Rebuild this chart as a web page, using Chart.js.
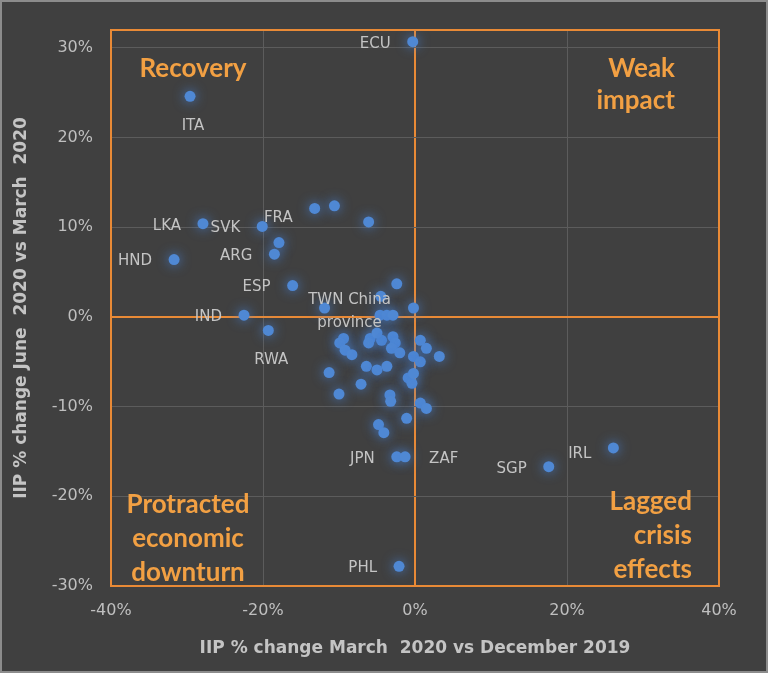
<!DOCTYPE html>
<html><head><meta charset="utf-8">
<script src="https://cdn.jsdelivr.net/npm/chart.js@4.4.1/dist/chart.umd.min.js"></script>
<style>html,body{margin:0;padding:0;background:#404040;overflow:hidden}#wrap{width:768px;height:673px}</style>
</head><body><div id="wrap"><canvas id="c"></canvas></div>
<script>
// IIP % change March 2020 vs December 2019
const xValues = [-0.3,-29.6,-27.9,-20.1,-13.2,-10.6,-6.1,-17.9,-18.5,-31.7,-16.1,-2.4,-4.5,-0.2,-11.9,-22.5,-19.3,-4.6,-3.7,-2.9,
  -9.4,-9.9,-9.2,-8.3,-5.9,-6.1,-4.4,-5.0,-2.9,-2.6,-3.1,-2.0,-0.2,0.7,0.7,1.5,3.2,-11.3,-6.4,-5.0,
  -3.7,-0.9,-0.4,-0.2,-7.1,-10.0,-3.3,-3.2,0.7,1.5,-1.1,-4.8,-4.1,-2.4,-1.3,17.6,26.1,-2.1];
// IIP % change June 2020 vs March 2020
const yValues = [30.7,24.6,10.4,10.1,12.1,12.4,10.6,8.3,7.0,6.4,3.5,3.7,2.3,1.0,1.0,0.2,-1.5,0.2,0.2,0.2,
  -2.4,-2.9,-3.7,-4.2,-2.4,-2.9,-2.6,-1.8,-2.2,-2.9,-3.5,-4.0,-4.4,-5.0,-2.6,-3.5,-4.4,-6.2,-5.5,-5.9,
  -5.5,-6.8,-7.4,-6.3,-7.5,-8.6,-8.7,-9.4,-9.6,-10.2,-11.3,-12.0,-12.9,-15.6,-15.6,-16.7,-14.6,-27.8];
const pointLabels = ['ECU','ITA','LKA','SVK','FRA','','','','ARG','HND','ESP','','','','TWN China|province','IND','RWA','','','',
  '','','','','','','','','','','','','','','','','','','','',
  '','','','','','','','','','','','','','JPN','ZAF','SGP','IRL','PHL'];
const xTickValues = [-40,-20,0,20,40];
const yTickValues = [-30,-20,-10,0,10,20,30];
const quadrantTopLeft = ['Recovery'];
const quadrantTopRight = ['Weak','impact'];
const quadrantBottomLeft = ['Protracted','economic','downturn'];
const quadrantBottomRight = ['Lagged','crisis','effects'];

// label placement (layout only)
const labelPlace = {
  'ECU':{pos:'left'}, 'ITA':{pos:'below'}, 'LKA':{pos:'left'}, 'SVK':{pos:'left'},
  'FRA':{pos:'left',dy:8}, 'ARG':{pos:'left'}, 'HND':{pos:'left'}, 'ESP':{pos:'left'},
  'TWN China|province':{pos:'custom',dx:25,dy:2}, 'IND':{pos:'left'}, 'RWA':{pos:'below'},
  'JPN':{pos:'left'}, 'ZAF':{pos:'right'}, 'SGP':{pos:'left'}, 'IRL':{pos:'left',dy:4}, 'PHL':{pos:'left'}
};

const ORANGE = '#e98a36';
const QTEXT = '#f2a043';
const GRID = '#5c5c5c';
const TICK = '#bfbfbf';
const LABEL = '#c4c4c4';
const FONT = "'DejaVu Sans', sans-serif";

const pts = xValues.map((x,i)=>({x, y:yValues[i]}));

const bgPlugin = {
  id:'bg',
  beforeDraw(chart){
    const {ctx,width,height} = chart;
    ctx.save();
    ctx.fillStyle = '#404040';
    ctx.fillRect(0,0,width,height);
    ctx.strokeStyle = '#8c8c8c';
    ctx.lineWidth = 2;
    ctx.strokeRect(1,1,width-2,height-2);
    ctx.restore();
  },
  beforeDatasetsDraw(chart){
    const {ctx, chartArea:a} = chart;
    ctx.save();
    ctx.strokeStyle = ORANGE; ctx.lineWidth = 2;
    ctx.strokeRect(a.left, a.top, a.right-a.left, a.bottom-a.top);
    ctx.restore();
  },
  beforeDatasetDraw(chart){
    const ctx = chart.ctx;
    ctx.save();
    ctx.shadowColor = 'rgba(70,130,215,0.9)';
    ctx.shadowBlur = 12;
  },
  afterDatasetDraw(chart){ chart.ctx.restore(); },
  afterDatasetsDraw(chart){
    const {ctx, chartArea:a} = chart;
    const meta = chart.getDatasetMeta(0);
    ctx.save();
    ctx.font = "15px " + FONT;
    ctx.fillStyle = LABEL;
    ctx.textBaseline = 'middle';
    pointLabels.forEach((lab,i)=>{
      if(!lab) return;
      const el = meta.data[i];
      const p = labelPlace[lab] || {pos:'right'};
      const lines = lab.split('|');
      let x = el.x, y = el.y + 2 + (p.dy||0);
      if(p.pos==='left'){ ctx.textAlign='right'; x = el.x - 22 + (p.dx||0); }
      else if(p.pos==='right'){ ctx.textAlign='left'; x = el.x + 24 + (p.dx||0); }
      else if(p.pos==='below'){ ctx.textAlign='center'; x = el.x + 3; y = el.y + 30; }
      else { ctx.textAlign='center'; x = el.x + (p.dx||0); y = el.y - 10 + (p.dy||0); }
      lines.forEach((t,k)=>ctx.fillText(t, x, y + k*23));
    });
    // quadrant labels
    ctx.font = "bold 26px Lato, sans-serif";
    ctx.fillStyle = QTEXT;
    ctx.textAlign = 'center';
    quadrantTopLeft.forEach((t,k)=>ctx.fillText(t, a.left+82, a.top+39+k*33));
    ctx.textAlign = 'right';
    quadrantTopRight.forEach((t,k)=>ctx.fillText(t, a.right-44, a.top+39+k*32));
    ctx.textAlign = 'center';
    quadrantBottomLeft.forEach((t,k)=>ctx.fillText(t, a.left+77, a.bottom-81+k*34));
    ctx.textAlign = 'right';
    quadrantBottomRight.forEach((t,k)=>ctx.fillText(t, a.right-27, a.bottom-84+k*34));
    ctx.restore();
  }
};

new Chart(document.getElementById('c'), {
  type:'scatter',
  data:{ datasets:[{ data: pts, backgroundColor:'#4f88d4', borderColor:'#4f88d4', borderWidth:0, pointRadius:5.5, pointHoverRadius:5.5 }] },
  options:{
    responsive:true, maintainAspectRatio:false, animation:false,
    events:[],
    layout:{ padding:{ left:0, right:49, top:30, bottom:0 } },
    plugins:{ legend:{display:false}, tooltip:{enabled:false} },
    scales:{
      x:{
        type:'linear', min:-40, max:40,
        afterBuildTicks(s){ s.ticks = xTickValues.map(v=>({value:v})); },
        afterFit(s){ s.height = 87; },
        grid:{ color:c=> (c.tick && c.tick.value===0) ? ORANGE : GRID, lineWidth:c=> (c.tick && c.tick.value===0) ? 2 : 1, drawTicks:false },
        border:{ display:false },
        ticks:{ color:TICK, font:{family:FONT, size:16}, padding:15, callback:v=>v+'%', maxRotation:0 },
        title:{ display:true, text:'IIP % change March  2020 vs December 2019', color:LABEL, font:{family:FONT, size:17, weight:'bold'}, padding:{bottom:14, top:0} }
      },
      y:{
        type:'linear', min:-30, max:32,
        afterBuildTicks(s){ s.ticks = yTickValues.map(v=>({value:v})); },
        afterFit(s){ s.width = 111; },
        grid:{ color:c=> (c.tick && c.tick.value===0) ? ORANGE : GRID, lineWidth:c=> (c.tick && c.tick.value===0) ? 2 : 1, drawTicks:false },
        border:{ display:false },
        ticks:{ color:TICK, font:{family:FONT, size:16}, padding:18, callback:v=>v+'%' },
        title:{ display:true, text:'IIP % change June  2020 vs March  2020', color:LABEL, font:{family:FONT, size:17, weight:'bold'}, padding:{top:11, bottom:0} }
      }
    }
  },
  plugins:[bgPlugin]
});
</script></body></html>
